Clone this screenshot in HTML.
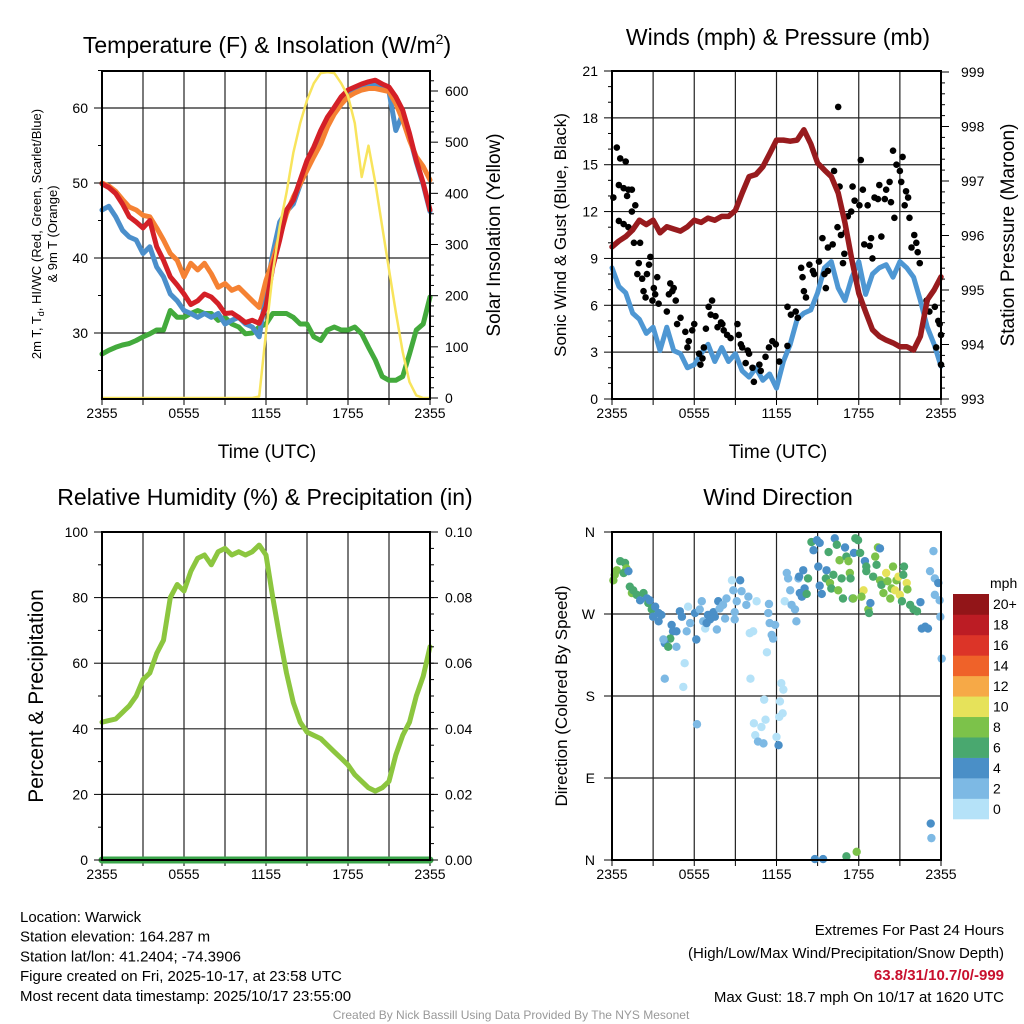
<!DOCTYPE html>
<html><head><meta charset="utf-8"><style>
body{margin:0;background:#fff;}
svg{display:block;font-family:"Liberation Sans",sans-serif;}
</style></head><body>
<svg id="c" width="1024" height="1024" viewBox="0 0 1024 1024"></svg>
<script>
// ---------- DATA ----------
const timeLabels = ["2355","0555","1155","1755","2355"];
const tempRed = [49.9,49.4,48.6,47.2,45.5,44.8,44,45,41.5,39.7,37.5,36.4,35.2,33.8,34.3,35.2,34.8,33.9,32.6,32.7,32.1,31.4,31.7,31.3,33.5,38.8,42.4,46.4,47.7,50.4,53,54.8,57,58.8,60.1,61.5,62.4,62.8,63.2,63.5,63.7,63.2,62.8,61.5,59.7,56.6,53,50,46.4];
const tempOrange = [50,49.6,48.9,47.8,46.8,46.4,45.7,45.5,44,42.4,40.6,39.7,37.5,39.3,38.4,39.3,37.9,36.1,36.6,35.7,36.1,35.2,34.3,33.4,37,39.7,42.8,45.9,48.1,49.9,51.7,53.5,55.2,57.5,59.2,60.5,61.5,62,62.4,62.6,62.6,62.4,62.2,60.6,58.4,55.7,53.5,52.2,50.4];
const tempBlue = [46.4,46.9,45.5,43.7,42.8,42.4,40.6,41.5,38.8,37.5,35.2,34.3,33,32.6,32.1,32.6,32.1,32.6,31.2,31.7,32.1,31.2,30.8,29.5,35.2,40.6,44.8,46.2,47.2,49.8,52.4,54.2,56.4,58.2,59.6,61,62,62.3,62.7,63,63.1,62.7,62.2,57,59.2,56.2,52.8,49.8,46.2];
const tempGreen = [27.2,27.7,28.1,28.4,28.6,29,29.5,29.9,30.4,30.4,33,32.1,32.1,32.6,33,32.6,32.6,31.7,32.1,31.2,30.8,29.9,30,30.8,31.2,32.6,32.6,32.6,32.1,31.2,31.2,29.5,29,30.4,30.8,30.4,30.4,30.8,29.9,28.1,26.4,24.2,23.7,23.7,24.2,27.2,30.4,31.2,34.8];
const solar = [0,0,0,0,0,0,0,0,0,0,0,0,0,0,0,0,0,0,0,0,0,0,0,3,128,245,335,401,479,537,582,615,635,637,635,615,590,537,432,493,421,335,251,168,90,31,5,0,0];
const windSpd = [8.4,7.2,6.8,5.5,5.1,4.2,4.6,3.1,4.6,3.1,2.9,2.0,2.2,2.9,3.5,2.4,3.3,2.4,2.9,1.8,1.4,2.0,1.2,1.6,0.7,2.4,3.5,5.1,5.5,5.7,6.8,8.4,8.8,7.1,6.3,7.8,8.8,6.7,8.0,8.4,8.6,7.8,8.8,8.4,7.8,6.3,4.6,3.5,2.1];
const pressure = [995.79,995.9,995.98,996.1,996.28,996.2,996.28,996.05,996.16,996.12,996.08,996.16,996.28,996.24,996.32,996.28,996.35,996.35,996.46,996.78,997.08,997.12,997.26,997.5,997.75,997.75,997.73,997.75,997.94,997.68,997.33,997.2,997.08,996.78,996.23,995.55,994.94,994.6,994.27,994.15,994.08,994.03,993.96,993.96,993.9,994.15,994.82,995.0,995.24];
const gustT = [0.2,0.7,1.2,2.0,1.0,1.7,2.4,2.9,2.2,3.4,2.9,1.0,1.7,2.4,3.2,4.1,5.6,3.9,5.4,3.7,4.4,5.1,4.6,6.1,6.3,4.9,5.9,6.8,6.6,8.5,9.0,8.8,8.3,9.3,8.0,10.0,9.5,10.7,11.7,12.0,11.2,11.0,12.7,13.2,13.4,12.9,13.7,14.6,14.1,14.4,15.1,15.9,15.4,16.1,16.3,16.8,17.3,18.3,18.5,18.8,19.0,19.8,20.0,19.5,20.5,20.7,21.5,21.7,22.4,22.9,23.4,23.9,24.4,25.6,25.6,26.1,26.8,27.1,27.6,27.8,28.0,28.3,28.8,29.3,29.5,30.2,31.0,31.2,31.5,30.7,31.5,32.2,32.4,33.0,33.2,32.9,33.4,33.7,33.9,34.1,34.4,34.9,35.1,35.4,36.1,36.3,36.6,36.8,37.3,37.6,37.8,38.0,38.3,38.8,39.0,39.3,39.8,40.0,40.5,40.7,41.0,41.5,41.2,42.0,42.2,42.4,42.7,42.9,43.2,43.4,43.7,44.1,44.4,44.6,44.9,45.9,46.3,47.1,47.6,47.8,48.0,47.3,48.0];
const gustV = [12.9,16.1,15.4,15.2,13.7,13.5,13.4,13.4,13.0,12.4,12.0,11.4,11.2,11.0,10.0,10.0,9.1,8.7,8.6,8.0,7.7,8.0,6.9,7.1,6.7,6.5,6.3,6.1,7.8,7.4,7.1,6.9,6.7,6.3,5.6,5.2,4.8,4.3,4.4,4.8,3.7,3.3,2.9,2.6,3.3,2.2,4.5,6.3,5.9,5.4,5.3,4.9,4.6,4.8,4.4,4.1,3.9,4.8,4.1,3.5,3.3,3.1,2.9,2.3,2.0,1.1,2.2,1.8,2.7,3.3,3.7,3.5,2.4,3.4,5.9,5.4,5.6,5.2,8.4,7.8,6.9,6.5,8.6,8.2,8.0,8.8,8.0,7.1,8.2,10.3,9.7,9.9,14.6,18.7,13.6,11.0,10.5,8.7,9.3,10.7,11.7,12.0,13.6,12.7,12.4,15.3,13.4,9.9,12.4,9.8,10.3,9.0,12.9,12.8,13.7,10.4,12.8,13.4,13.9,12.6,15.9,15.0,11.6,14.6,13.9,15.5,12.4,13.3,12.9,11.6,9.7,10.5,10.0,9.4,8.7,6.3,5.6,5.9,5.0,4.8,4.1,3.3,2.2];
const rh = [42,42.5,43,45,47,50,55,57,63,67,80,84,82,88,92,93,90,94,95,93,94,93,94,96,93,80,68,57,48,42,39,38,37,35,33,31,29,26,24,22,21,22,24,32,38,42,50,56,65];
const precip = [0,0,0,0,0,0,0,0,0,0,0,0,0,0,0,0,0,0,0,0,0,0,0,0,0,0,0,0,0,0,0,0,0,0,0,0,0,0,0,0,0,0,0,0,0,0,0,0,0];
const dirT = [0.2,0.4,0.7,1.2,1.9,2.1,1.7,2.4,2.6,2.9,3.1,3.6,4.1,4.6,5.1,5.3,5.5,5.8,6.3,6.0,6.8,7.2,6.8,8.7,8.9,9.4,8.5,7.7,8.2,9.4,7.5,9.9,10.2,11.1,11.4,10.9,10.6,7.7,10.4,12.3,12.1,13.1,12.8,13.3,13.6,14.0,14.3,14.8,15.0,13.8,15.5,15.3,15.7,16.2,16.7,16.5,17.5,18.7,17.7,18.2,18.9,19.6,17.9,17.9,19.9,21.1,22.6,20.1,20.6,22.8,22.9,23.0,23.3,23.8,23.5,20.2,24.7,25.0,22.2,24.5,22.4,21.8,20.7,24.9,24.4,20.9,21.3,22.1,24.0,24.3,12.4,25.2,25.5,25.7,26.0,26.2,26.7,26.9,27.2,27.3,27.9,28.1,27.4,27.7,28.4,28.6,29.1,29.4,29.9,30.3,30.1,30.3,30.6,31.3,31.2,31.6,32.3,31.8,32.0,32.5,32.8,33.0,33.2,33.5,33.7,34.0,34.2,34.5,34.7,34.8,35.1,35.2,35.3,35.5,35.9,36.2,36.7,36.9,37.1,37.1,36.4,37.4,37.5,37.7,38.1,38.4,38.6,38.8,39.1,39.1,39.3,39.6,40.0,40.2,40.6,40.8,41.0,41.3,41.5,41.8,42.0,42.3,42.5,42.6,43.0,43.1,43.5,44.0,44.5,45.0,45.2,45.7,46.1,46.4,46.9,47.1,47.6,47.1,47.8,47.9,48.1,46.5,46.6,29.6,30.8,34.2,35.7];
const dirDeg = [307,313,318,328,326,320,315,317,300,293,296,291,285,293,287,282,285,275,278,267,271,269,262,258,251,251,243,238,234,234,242,273,267,278,260,251,216,199,190,242,271,284,275,262,254,269,264,272,267,260,284,253,276,280,287,265,307,307,296,284,295,280,264,272,289,284,228,249,251,271,281,260,247,258,243,199,194,187,176,174,154,146,150,161,157,137,130,128,135,126,149,284,315,309,296,280,275,262,309,311,318,298,293,289,292,309,349,340,351,348,322,301,292,318,309,338,313,304,298,353,346,296,329,309,287,343,333,328,315,309,287,287,337,353,351,337,296,328,322,317,289,275,271,282,311,333,324,343,342,307,302,293,315,306,287,298,322,296,307,311,291,284,313,322,304,297,280,275,273,283,254,256,254,317,339,309,304,291,285,267,221,40,24,1,1,4,9];
const dirSpd = [9,9,9,7,7,9,7,5,7,9,7,7,5,7,5,7,5,7,5,5,5,5,5,5,5,5,7,5,7,3,3,5,5,1,3,3,1,3,1,5,5,3,3,3,1,5,5,5,5,5,5,3,3,3,3,3,1,5,3,3,3,3,3,3,3,1,1,1,1,3,3,3,3,3,3,1,1,1,1,1,1,1,1,1,1,1,3,3,1,5,3,1,3,3,3,3,3,3,3,5,5,5,5,5,7,7,7,5,5,5,5,5,5,5,7,7,7,9,7,5,7,9,9,7,7,5,7,9,9,7,5,9,5,7,7,7,10.5,5,7,7,9,9,7,5,7,9,7,9,5,9,7,9,10.5,9,9,9,9,10.5,9,10.5,10.5,7,7,7,10.5,9,7,7,7,5,5,5,5,3,3,3,5,3,3,3,3,5,3,5,5,7,9];
const cbLabels = ["0","2","4","6","8","10","12","14","16","18","20+"];
const cbColors = ["#b5e2f8","#7db9e4","#4a8fc7","#49a86f","#7cc24a","#e6e25a","#f6a947","#ef6229","#dc3428","#bc1c24","#921518"];

// ---------- helpers ----------
const NS="http://www.w3.org/2000/svg", svg=document.getElementById('c');
function mk(tag, attrs, parent){const e=document.createElementNS(NS,tag);for(const k in attrs)e.setAttribute(k,attrs[k]);(parent||svg).appendChild(e);return e;}
function txt(s,x,y,size,anchor,parent,extra){const e=mk('text',Object.assign({x:x,y:y,'font-size':size,'text-anchor':anchor||'middle',fill:'#000'},extra||{}),parent);e.textContent=s;return e;}
function lin(v,d0,d1,p0,p1){return p0+(v-d0)*(p1-p0)/(d1-d0);}

const P=[{x0:102,x1:430,y0:71,y1:399},{x0:612,x1:941,y0:71,y1:399},{x0:102,x1:430,y0:532,y1:860},{x0:612,x1:941,y0:532,y1:860}];
function tx(p,t){return lin(t,0,48,p.x0,p.x1);}

function frame(p,name,hLines){
  const g=mk('g',{});
  
  
  for(let k=1;k<8;k++){const x=p.x0+k*(p.x1-p.x0)/8;mk('line',{x1:x,x2:x,y1:p.y0,y2:p.y1,stroke:'#222','stroke-width':1.2},g);}
  hLines.forEach(y=>mk('line',{x1:p.x0,x2:p.x1,y1:y,y2:y,stroke:'#222','stroke-width':1.2},g));
  const ax=mk('g',{});
  
  
  for(let k=0;k<=8;k++){const x=p.x0+k*(p.x1-p.x0)/8;mk('line',{x1:x,x2:x,y1:p.y1,y2:p.y1+6,stroke:'#000','stroke-width':1},ax);}
  timeLabels.forEach((s,k)=>txt(s,p.x0+k*(p.x1-p.x0)/4,p.y1+19,14,'middle',ax));
}
function border(p,name){
  const r=mk('rect',{x:p.x0,y:p.y0,width:p.x1-p.x0,height:p.y1-p.y0,fill:'none',stroke:'#000','stroke-width':2});
  
  
}
function path(pts,color,w,name,parent){
  const d=pts.map((q,i)=>(i?'L':'M')+q[0].toFixed(1)+','+q[1].toFixed(1)).join('');
  const e=mk('path',{d:d,fill:'none',stroke:color,'stroke-width':w,'stroke-linejoin':'round','stroke-linecap':'round'},parent);
  
  
  return e;
}

// ---------- Panel 1 ----------
{const p=P[0];
 const yT=v=>lin(v,30,60,333,108), yS=v=>lin(v,0,600,398,91);
 frame(p,'temp-panel',[108,183,258,333]);
 const pl=mk('g',{});
 
 
 path(tempGreen.map((v,i)=>[tx(p,i),yT(v)]),'#43aa3c',5,'hiwc-line',pl);
 path(tempBlue.map((v,i)=>[tx(p,i),yT(v)]),'#4b8fcb',5,'dewpoint-line',pl);
 path(tempOrange.map((v,i)=>[tx(p,i),yT(v)]),'#f58233',5,'temp-9m-line',pl);
 path(tempRed.map((v,i)=>[tx(p,i),yT(v)]),'#d42027',5,'temp-2m-line',pl);
 path(solar.map((v,i)=>[tx(p,i),yS(v)]),'#f8e45c',2.5,'solar-line',pl);
 border(p,'temp-panel');
 const la=mk('g',{});
 
 
 [30,40,50,60].forEach(v=>{mk('line',{x1:p.x0-8,x2:p.x0,y1:yT(v),y2:yT(v),stroke:'#000'},la);txt(String(v),p.x0-14,yT(v)+5,14,'end',la);});
 [25,35,45,55,65].forEach(v=>mk('line',{x1:p.x0-4,x2:p.x0,y1:yT(v),y2:yT(v),stroke:'#000'},la));
 const ra=mk('g',{});
 
 
 for(let v=0;v<=600;v+=100){mk('line',{x1:p.x1,x2:p.x1+8,y1:yS(v),y2:yS(v),stroke:'#000'},ra);txt(String(v),p.x1+15,yS(v)+5,14,'start',ra);}
 for(let v=20;v<640;v+=20){if(v%100)mk('line',{x1:p.x1,x2:p.x1+4,y1:yS(v),y2:yS(v),stroke:'#000'},ra);}
 const t1=mk('text',{x:267,y:53,'font-size':23,'text-anchor':'middle'});t1.innerHTML='Temperature (F) &amp; Insolation (W/m<tspan dy="-9" font-size="14">2</tspan><tspan dy="9">)</tspan>';
 
 
 const yt=mk('text',{x:0,y:0,'font-size':13,'text-anchor':'middle',transform:'translate(41,234) rotate(-90)'});
 yt.innerHTML='2m T, T<tspan dy="3" font-size="9">d</tspan><tspan dy="-3">, HI/WC (Red, Green, Scarlet/Blue)</tspan>';
 
 
 const yt2=txt('& 9m T (Orange)',0,0,13,'middle',null,{transform:'translate(57,234) rotate(-90)'});
 
 
 const rt=txt('Solar Insolation (Yellow)',0,0,19,'middle',null,{transform:'translate(500,235) rotate(-90)'});
 
 
 const xt=txt('Time (UTC)',267,458,19,'middle');
 
 
}

// ---------- Panel 2 ----------
{const p=P[1];
 const yW=v=>lin(v,0,21,399,71), yP=v=>lin(v,993,999,399,72);
 frame(p,'wind-panel',[3,6,9,12,15,18].map(yW));
 const pl=mk('g',{});
 
 
 path(windSpd.map((v,i)=>[tx(p,i),yW(v)]),'#4e97d3',5,'wind-speed-line',pl);
 gustT.forEach((t,i)=>{const c=mk('circle',{cx:tx(p,t),cy:yW(gustV[i]),r:3.3,fill:'#000'},pl);
   
   });
 path(pressure.map((v,i)=>[tx(p,i),yP(v)]),'#981b1e',5.5,'pressure-line',pl);
 border(p,'wind-panel');
 const la=mk('g',{});
 
 
 for(let v=0;v<=21;v+=3){mk('line',{x1:p.x0-8,x2:p.x0,y1:yW(v),y2:yW(v),stroke:'#000'},la);txt(String(v),p.x0-14,yW(v)+5,14,'end',la);}
 for(let v=1;v<21;v++){if(v%3)mk('line',{x1:p.x0-4,x2:p.x0,y1:yW(v),y2:yW(v),stroke:'#000'},la);}
 const ra=mk('g',{});
 
 
 for(let v=993;v<=999;v++){mk('line',{x1:p.x1,x2:p.x1+8,y1:yP(v),y2:yP(v),stroke:'#000'},ra);txt(String(v),p.x1+20,yP(v)+5,14,'start',ra);}
 for(let v=993.2;v<999;v+=0.2){mk('line',{x1:p.x1,x2:p.x1+4,y1:yP(v),y2:yP(v),stroke:'#000'},ra);}
 const t=txt('Winds (mph) & Pressure (mb)',778,45,23,'middle');
 
 
 const l=txt('Sonic Wind & Gust (Blue, Black)',0,0,17,'middle',null,{transform:'translate(566,235) rotate(-90)'});
 
 
 const r=txt('Station Pressure (Maroon)',0,0,19,'middle',null,{transform:'translate(1014,235) rotate(-90)'});
 
 
 const xt=txt('Time (UTC)',778,458,19,'middle');
 
 
}

// ---------- Panel 3 ----------
{const p=P[2];
 const yR=v=>lin(v,0,100,860,532), yQ=v=>lin(v,0,0.1,860,532);
 frame(p,'rh-panel',[20,40,60,80].map(yR));
 const pl=mk('g',{});
 
 
 path(rh.map((v,i)=>[tx(p,i),yR(v)]),'#8cc63f',5,'rh-line',pl);
 path(precip.map((v,i)=>[tx(p,i),yQ(v)]),'#3aa54a',7,'precip-line',pl);
 border(p,'rh-panel');
 const la=mk('g',{});
 
 
 for(let v=0;v<=100;v+=20){mk('line',{x1:p.x0-8,x2:p.x0,y1:yR(v),y2:yR(v),stroke:'#000'},la);txt(String(v),p.x0-14,yR(v)+5,14,'end',la);}
 for(let v=10;v<100;v+=20)mk('line',{x1:p.x0-4,x2:p.x0,y1:yR(v),y2:yR(v),stroke:'#000'},la);
 const ra=mk('g',{});
 
 
 for(let k=0;k<=5;k++){const v=k*0.02;mk('line',{x1:p.x1,x2:p.x1+8,y1:yQ(v),y2:yQ(v),stroke:'#000'},ra);txt(v.toFixed(2),p.x1+15,yQ(v)+5,14,'start',ra);}
 for(let k=0;k<20;k++){const v=k*0.005;mk('line',{x1:p.x1,x2:p.x1+4,y1:yQ(v),y2:yQ(v),stroke:'#000'},ra);}
 const t=txt('Relative Humidity (%) & Precipitation (in)',265,505,23,'middle');
 
 
 const l=txt('Percent & Precipitation',0,0,21,'middle',null,{transform:'translate(43,696) rotate(-90)'});
 
 
}

// ---------- Panel 4 ----------
{const p=P[3];
 const yD=v=>lin(v,0,360,860,532);
 frame(p,'dir-panel',[90,180,270].map(yD));
 const pl=mk('g',{});
 
 
 dirT.forEach((t,i)=>{const b=Math.min(10,Math.floor(dirSpd[i]/2));
   const c=mk('circle',{cx:tx(p,t),cy:yD(dirDeg[i]),r:4.2,fill:cbColors[b]},pl);
   
   });
 border(p,'dir-panel');
 const la=mk('g',{});
 
 
 ['N','E','S','W','N'].forEach((s,k)=>{const y=yD(k*90);mk('line',{x1:p.x0-8,x2:p.x0,y1:y,y2:y,stroke:'#000'},la);txt(s,p.x0-17,y+5,14,'end',la);});
 const t=txt('Wind Direction',778,505,23,'middle');
 
 
 const l=txt('Direction (Colored By Speed)',0,0,17,'middle',null,{transform:'translate(567,696) rotate(-90)'});
 
 
 const cb=mk('g',{});
 
 
 const h=225/11;
 cbColors.forEach((c,k)=>{const y=819-(k+1)*h;mk('rect',{x:953,y:y,width:36,height:h+0.3,fill:c},cb);txt(cbLabels[k],993,y+h/2+5,14,'start',cb);});
 txt('mph',990,588,14,'start',cb);
}

// ---------- footer ----------
{const g=mk('g',{});
 
 
 ["Location: Warwick","Station elevation: 164.287 m","Station lat/lon: 41.2404; -74.3906","Figure created on Fri, 2025-10-17, at 23:58 UTC","Most recent data timestamp: 2025/10/17 23:55:00"].forEach((s,k)=>txt(s,20,922+k*19.7,15,'start',g));
 const r=mk('g',{});
 
 
 txt('Extremes For Past 24 Hours',1004,935,15,'end',r);
 txt('(High/Low/Max Wind/Precipitation/Snow Depth)',1004,958,15,'end',r);
 txt('63.8/31/10.7/0/-999',1004,980,15,'end',r,{fill:'#c8102e','font-weight':'bold'});
 txt('Max Gust: 18.7 mph On 10/17 at 1620 UTC',1004,1002,15,'end',r);
 const c=txt('Created By Nick Bassill Using Data Provided By The NYS Mesonet',511,1019,12,'middle',null,{fill:'#999'});
 
 
}
</script>
</body></html>
